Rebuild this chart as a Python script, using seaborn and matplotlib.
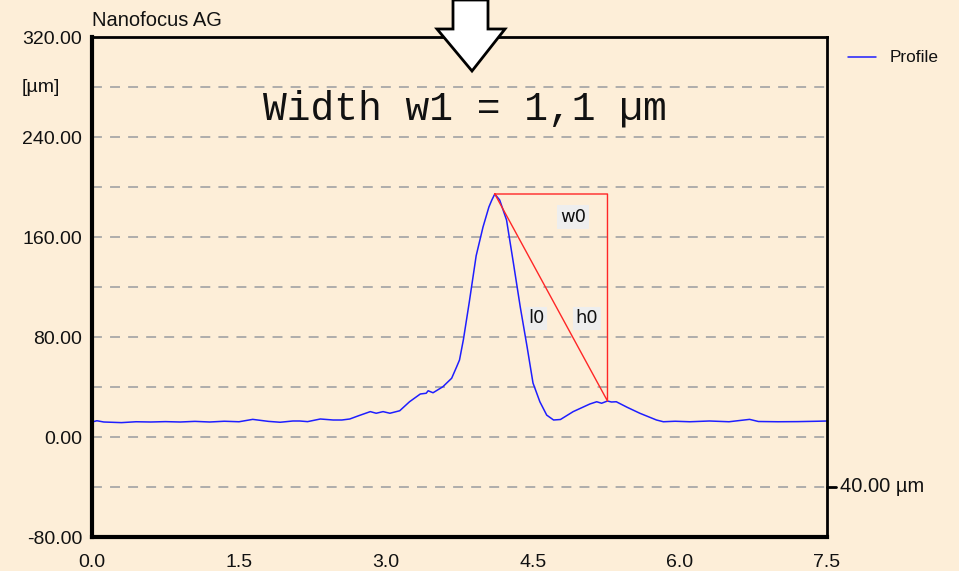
import matplotlib
matplotlib.use("Agg")
import matplotlib.pyplot as plt
from matplotlib.patches import Polygon
import numpy as np
import pandas as pd
import seaborn as sns

# Measured surface profile (position in µm, height in µm)
pos = [0.00, 0.05, 0.12, 0.30, 0.45, 0.60, 0.75, 0.90, 1.05, 1.20, 1.35, 1.50,
       1.64, 1.80, 1.92, 2.05, 2.12, 2.20, 2.33, 2.46, 2.55, 2.63, 2.72, 2.84,
       2.90, 2.97, 3.04, 3.14, 3.24, 3.35, 3.41, 3.43, 3.48, 3.58, 3.67, 3.72,
       3.75, 3.79, 3.85, 3.92, 3.99, 4.05, 4.08, 4.11, 4.16, 4.23, 4.30, 4.37,
       4.44, 4.50, 4.57, 4.64, 4.71, 4.78, 4.91, 5.08, 5.15, 5.20, 5.26, 5.30,
       5.35, 5.46, 5.59, 5.76, 5.83, 5.95, 6.10, 6.30, 6.50, 6.71, 6.80, 7.00,
       7.20, 7.40, 7.50]
height = [12.0, 13.0, 12.0, 11.5, 12.2, 12.0, 12.3, 12.0, 12.5, 12.0, 12.6, 12.2,
          14.1, 12.5, 11.8, 12.8, 12.8, 12.3, 14.4, 13.6, 13.6, 14.4, 17.0, 20.3,
          19.0, 20.3, 19.0, 21.0, 28.2, 34.4, 35.0, 37.0, 35.4, 40.2, 47.0, 56.0,
          61.6, 78.0, 108.0, 145.0, 168.0, 184.0, 189.6, 194.4, 189.6, 173.6, 139.2, 104.0,
          72.0, 43.2, 28.2, 17.5, 13.6, 14.0, 20.3, 26.4, 28.2, 27.0, 28.8, 28.0,
          28.2, 23.8, 19.0, 13.6, 12.2, 12.6, 12.2, 12.8, 12.2, 14.1, 12.4, 12.2,
          12.3, 12.6, 12.8]

# Width-measurement triangle: peak and right foot of the profile
peak_x, peak_y = 4.11, 194.4
foot_x, foot_y = 5.26, 28.8

title_text = "Width w1 = 1,1 µm"
y_ticks = [320, 240, 160, 80, 0, -80]
y_tick_labels = ["320.00", "240.00", "160.00", "80.00", "0.00", "-80.00"]
unit_label = "[µm]"
x_labels = ["0.0", "1.5", "3.0", "4.5", "6.0", "7.5"]

bg = "#FDEED8"
sns.set_theme(style="white")
plt.rcParams["font.family"] = ["Liberation Sans", "DejaVu Sans"]

fig = plt.figure(figsize=(9.59, 5.71), dpi=100, facecolor=bg)
ax = fig.add_axes([92 / 959, 34 / 571, 735 / 959, 500 / 571])
ax.set_facecolor(bg)

df = pd.DataFrame({"pos": pos, "height": height})
sns.lineplot(data=df, x="pos", y="height", ax=ax, color="#1E1EFF", lw=1.1,
             label="Profile", legend=False)

ax.set_xlim(0, 7.5)
ax.set_ylim(-80, 320)

# dashed grid at every 40 µm
for g in range(-40, 320, 40):
    ax.axhline(g, color="#A8A8A8", lw=1.3, ls=(0, (5.5, 4.5)), zorder=0)

# triangle
ax.plot([peak_x, foot_x, foot_x, peak_x], [peak_y, peak_y, foot_y, peak_y],
        color="#FF2626", lw=1.0, zorder=3)

box = dict(boxstyle="square,pad=0.15", fc="#EEEEEE", ec="none")
lbl_font = dict(fontsize=13, family=["DejaVu Sans"], ha="center", va="center",
                color="#111111", bbox=box)
ax.text(4.91, 176, "w0", **lbl_font)
ax.text(4.53, 95, "l0", **lbl_font)
ax.text(5.05, 95, "h0", **lbl_font)

ax.text(3.8, 263, title_text, fontsize=28.5, family="Liberation Mono",
        ha="center", va="center", color="#111111")

# axes styling
for side, w in [("left", 3.0), ("bottom", 3.0), ("top", 2.0), ("right", 2.0)]:
    ax.spines[side].set_visible(True)
    ax.spines[side].set_color("black")
    ax.spines[side].set_linewidth(w)

ax.set_yticks(list(range(-80, 321, 40)))
ax.set_yticklabels([y_tick_labels[y_ticks.index(v)] if v in y_ticks else ""
                    for v in range(-80, 321, 40)])
ax.set_xticks(np.arange(0, 7.51, 0.75))
ax.set_xticklabels([x_labels[i // 2] if i % 2 == 0 else "" for i in range(11)])
ax.tick_params(axis="both", direction="in", length=7, width=2.5, color="black",
               labelsize=14, labelcolor="#111111")
ax.tick_params(axis="y", pad=7)
ax.tick_params(axis="x", pad=12)
ax.set_xlabel("")
ax.set_ylabel("")

# unit label beside the 280 tick, left-aligned with the tick labels
fig.text(22 / 959, 1 - 87 / 571, unit_label, fontsize=14, ha="left",
         va="center", color="#111111")

# right-hand scale marker
ax.plot([1.0, 1.012], [-40, -40], transform=ax.get_yaxis_transform(),
        color="black", lw=2, clip_on=False)
ax.text(1.018, -40, "40.00 µm", transform=ax.get_yaxis_transform(),
        fontsize=14.5, va="center", ha="left", color="#111111")

fig.text(92 / 959, 1 - 20 / 571, "Nanofocus AG", fontsize=14.5, ha="left",
         va="center", color="#111111")

# legend
fig.add_artist(plt.Line2D([848 / 959, 876 / 959], [1 - 57 / 571] * 2,
                          color="#1E1EFF", lw=1.1))
fig.text(890 / 959, 1 - 57 / 571, "Profile", fontsize=12.4, ha="left",
         va="center", color="#111111")

# downward marker arrow at the top
arrow_px = [(453, 0), (488, 0), (488, 29), (505, 29), (472, 71), (437, 29), (453, 29)]
arrow = Polygon([(x / 959, 1 - y / 571) for x, y in arrow_px], closed=True,
                fc="white", ec="black", lw=2, transform=fig.transFigure,
                zorder=10, clip_on=False)
fig.add_artist(arrow)

fig.savefig("out.png", dpi=100, facecolor=bg)
